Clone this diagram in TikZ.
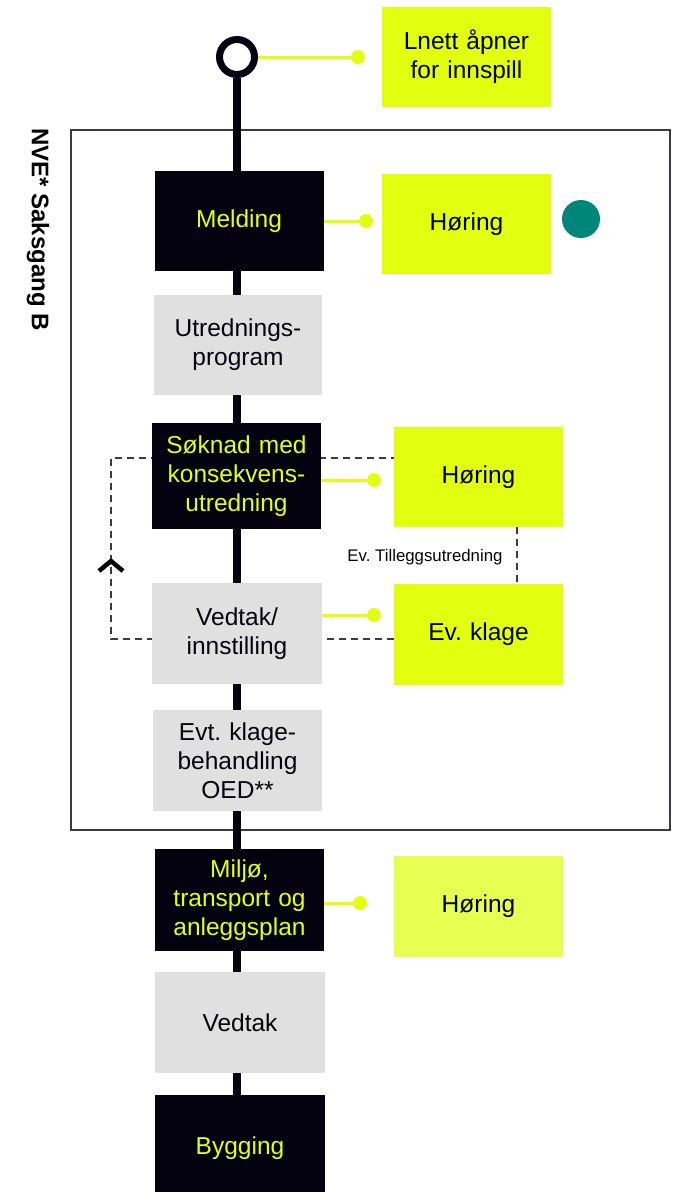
\documentclass[tikz,border=0pt]{standalone}
\usepackage{fontspec}
\setmainfont{Liberation Sans}
\usetikzlibrary{backgrounds}
\definecolor{lime}{HTML}{E2FF10}
\definecolor{limelight}{HTML}{E6FF50}
\definecolor{limetext}{HTML}{E3FF14}
\definecolor{ink}{HTML}{05020F}
\definecolor{lgray}{HTML}{E0E0E0}
\definecolor{teal2}{HTML}{00857A}
\definecolor{framec}{HTML}{3A3A44}
\frenchspacing
\begin{document}
\begin{tikzpicture}[x=1pt,y=-1pt,
  box/.style={minimum width=169pt, minimum height=100pt, inner sep=0pt, align=center,
    text width=165pt, font=\fontsize{24.5}{29}\selectfont},
  darkbox/.style={box, fill=ink, text=limetext},
  greybox/.style={box, fill=lgray, text=ink},
  limebox/.style={box, fill=lime, text=black},
  dot/.style={circle, fill=lime, inner sep=0pt, minimum size=14pt},
  link/.style={draw=lime, line width=3pt},
  mainline/.style={draw=ink, line width=8pt},
  dashline/.style={draw=framec, line width=1.2pt, dash pattern=on 7pt off 5pt},
  chev/.style={draw=ink, line width=4.5pt, line cap=butt, line join=miter}]
\useasboundingbox (0,0) rectangle (675,1192);

\node[rotate=-90, font=\bfseries\fontsize{24}{28}\selectfont, anchor=west, inner sep=0pt] (nve) at (38,128) {NVE* Saksgang B};

% start ring
\node[circle, draw=ink, line width=7pt, fill=white, minimum size=35pt, inner sep=0pt] (ring) at (237,57) {};

% central column
\node[darkbox, minimum height=100pt] (melding) at (239,221) {Melding};
\node[greybox, minimum width=168pt] (utr) at (238,345) {Utrednings-\\program};
\node[darkbox, minimum height=106pt] (soknad) at (236.5,476) {Søknad med\\konsekvens-\\utredning};
\node[greybox, minimum width=170pt, minimum height=101pt] (vedtak1) at (237,633.5) {Vedtak/\\innstilling};
\node[greybox, minimum height=101pt] (evt) at (237.5,760.5) {Evt. klage-\\behandling\\OED**};
\node[darkbox, minimum height=102pt] (miljo) at (239.5,900) {Miljø,\\transport og\\anleggsplan};
\node[greybox, minimum width=170pt, minimum height=101pt] (vedtak2) at (240,1022.5) {Vedtak};
\node[darkbox, minimum width=170pt, minimum height=106pt] (bygging) at (240,1148) {Bygging};

% right column
\node[limebox] (lnett) at (466.5,57) {Lnett åpner\\for innspill};
\node[limebox] (hor1) at (466.5,224) {Høring};
\node[limebox] (hor2) at (478.5,477) {Høring};
\node[limebox, minimum height=101pt] (klage) at (478.5,634.5) {Ev. klage};
\node[limebox, fill=limelight, minimum height=101pt] (hor3) at (478.5,906.5) {Høring};

\node[circle, fill=teal2, minimum size=38pt, inner sep=0pt] (teal) at (581,219) {};

% dots
\node[dot] (d0) at (358,57) {};
\node[dot] (d1) at (366,221) {};
\node[dot] (d2) at (374,480) {};
\node[dot] (d3) at (374,615) {};
\node[dot] (d4) at (360,903) {};

\draw[link] (ring.east) -- (d0);
\draw[link] (melding.east) -- (d1);
\draw[link] (soknad.east |- d2) -- (d2);
\draw[link] (vedtak1.east |- d3) -- (d3);
\draw[link] (miljo.east |- d4) -- (d4);

% coordinates for dashed loop
\coordinate (lpb) at (111,639);
\coordinate (lpt) at (111,458);
\coordinate (tx) at (517,0);
\coordinate (ap) at (111,561);

\begin{pgfonlayer}{background}
\fill[white] (0,0) rectangle (675,1192);
% frame
\draw[framec, line width=1.2pt] (71,130) rectangle (670,830);
\draw[mainline] (ring.south) -- (ring.south |- bygging.north);
\draw[dashline] (klage.west |- lpb) -- (lpb) -- (lpt) -- (hor2.west |- lpt);
\end{pgfonlayer}

\draw[dashline] (hor2.south -| tx) -- (klage.north -| tx);
\node[font=\fontsize{16.8}{19}\selectfont, text=ink, inner sep=0pt] (till) at (425,557) {Ev. Tilleggsutredning};

% chevron
\draw[chev] ([xshift=-12pt,yshift=-10pt]ap) -- (ap) -- ([xshift=12pt,yshift=-10pt]ap);
\end{tikzpicture}
\end{document}
